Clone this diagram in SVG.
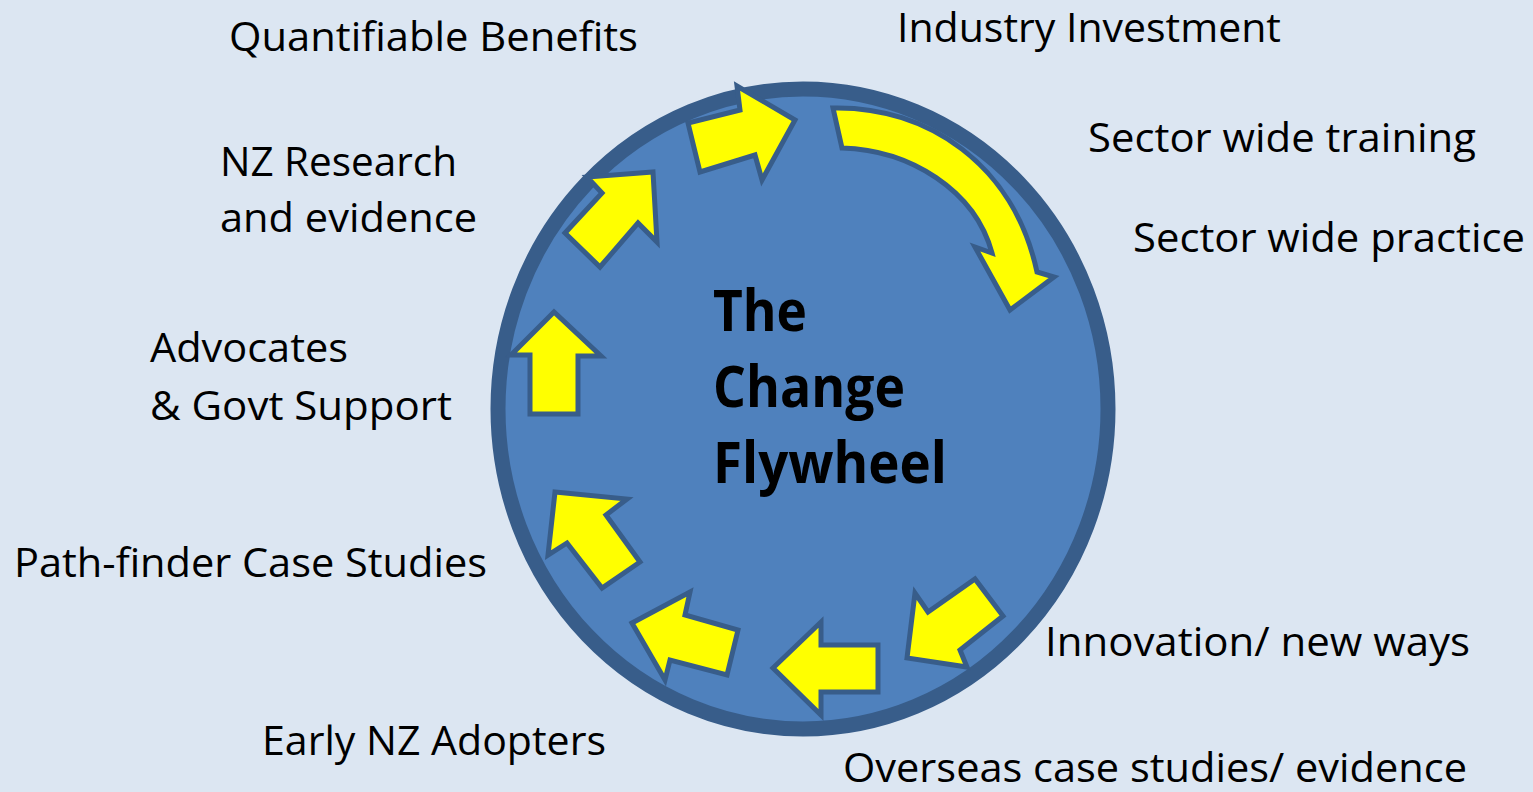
<svg xmlns="http://www.w3.org/2000/svg" width="1533" height="792" viewBox="0 0 1533 792">
<style>
.lbl{font-family:"Open Sans","Liberation Sans",sans-serif;font-size:40px;fill:#000}
.ttl{font-family:"Open Sans","Liberation Sans",sans-serif;font-size:57px;font-weight:bold;fill:#000}
.arr{fill:#ffff00;stroke:#385d8a;stroke-width:5;stroke-linejoin:miter}
</style>
<rect x="0" y="0" width="1533" height="792" fill="#dce6f2"/>
<g id="wheel">
<ellipse cx="803" cy="409" rx="305" ry="320" fill="#4f81bd" stroke="#385d8a" stroke-width="15"/>
<text class="ttl" x="713" y="331" textLength="94" lengthAdjust="spacingAndGlyphs">The</text>
<text class="ttl" x="713" y="407" textLength="192" lengthAdjust="spacingAndGlyphs">Change</text>
<text class="ttl" x="713" y="483" textLength="234" lengthAdjust="spacingAndGlyphs">Flywheel</text>
</g>
<g id="connectors">
<path class="arr" d="M688,123 L700,172 L755,155 L762,180 L795,120 L737,86 L740,110 Z"/>
<path class="arr" d="M565,233 L600,267 L638,223 L657,242 L653,172 L587,177 L602,193 Z"/>
<path class="arr" d="M554,312 L511,355 L530,355 L530,414 L578,414 L578,356 L601,356 Z"/>
<path class="arr" d="M555,492 L627,499 L606,515 L640,562 L602,588 L567,543 L548,555 Z"/>
<path class="arr" d="M632,623 L690,592 L685,615 L738,630 L727,675 L670,660 L665,680 Z"/>
<path class="arr" d="M773,668 L821,622 L821,645 L878,645 L878,692 L821,692 L821,715 Z"/>
<path class="arr" d="M907,658 L915,593 L928,612 L975,579 L1003,616 L960,650 L967,667 Z"/>
<path class="arr" d="M833,108 C928,106 1014,165 1037,272 L1054,277 L1010,310 L975,247 L992,253 C975,190 910,150 842,148 Z"/>
</g>
<g id="labels">
<text class="lbl" x="229" y="51" textLength="409" lengthAdjust="spacingAndGlyphs">Quantifiable Benefits</text>
<text class="lbl" x="897" y="42" textLength="384" lengthAdjust="spacingAndGlyphs">Industry Investment</text>
<text class="lbl" x="1088" y="152" textLength="388" lengthAdjust="spacingAndGlyphs">Sector wide training</text>
<text class="lbl" x="1133" y="252" textLength="392" lengthAdjust="spacingAndGlyphs">Sector wide practice</text>
<text class="lbl" x="220" y="176" textLength="237" lengthAdjust="spacingAndGlyphs">NZ Research</text>
<text class="lbl" x="220" y="232" textLength="257" lengthAdjust="spacingAndGlyphs">and evidence</text>
<text class="lbl" x="150" y="362" textLength="198" lengthAdjust="spacingAndGlyphs">Advocates</text>
<text class="lbl" x="150" y="420" textLength="302" lengthAdjust="spacingAndGlyphs">&amp; Govt Support</text>
<text class="lbl" x="14" y="577" textLength="473" lengthAdjust="spacingAndGlyphs">Path-finder Case Studies</text>
<text class="lbl" x="1045" y="656" textLength="425" lengthAdjust="spacingAndGlyphs">Innovation/ new ways</text>
<text class="lbl" x="262" y="755" textLength="344" lengthAdjust="spacingAndGlyphs">Early NZ Adopters</text>
<text class="lbl" x="843" y="782" textLength="624" lengthAdjust="spacingAndGlyphs">Overseas case studies/ evidence</text>
</g>
</svg>
